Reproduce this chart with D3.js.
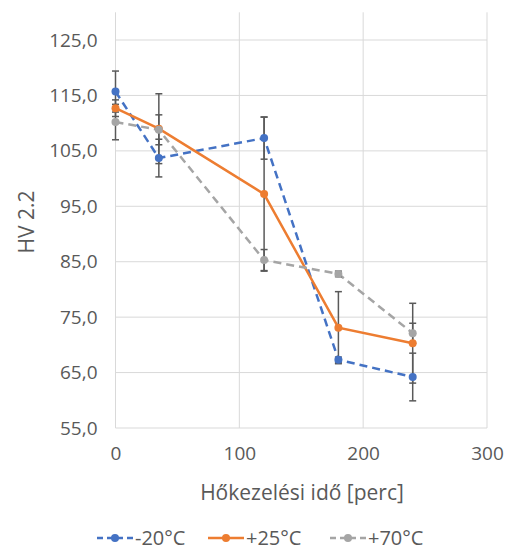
<!DOCTYPE html>
<html>
<head>
<meta charset="utf-8">
<script src="https://cdn.jsdelivr.net/npm/d3@7"></script>
<style>
  body { margin: 0; background: #fff; }
  svg text { font-family: "Open Sans", "Noto Sans", sans-serif; fill: #595959; }
</style>
</head>
<body>
<svg id="chart" width="514" height="550"></svg>
<script>
// data
var times = [0, 35, 120, 180, 240]
var seriesNames = ['-20°C', '+25°C', '+70°C']
var hvMinus20 = [115.7, 103.7, 107.3, 67.3, 64.2]
var hvPlus25 = [112.7, 109.0, 97.2, 73.1, 70.3]
var hvPlus70 = [110.2, 108.8, 85.3, 82.8, 72.1]
var errMinus20 = [3.7, 3.4, 3.8, 0.5, 4.3]
var errPlus25 = [1.5, 6.3, 13.9, 6.5, 7.2]
var errPlus70 = [3.2, 2.7, 1.9, 0.5, 1.8]
var yTicks = [55, 65, 75, 85, 95, 105, 115, 125]
var xTicks = [0, 100, 200, 300]

var colors = ['#4472C4', '#ED7D31', '#A5A5A5']
var dashes = ['8,5', null, '8,5']

var series = seriesNames.map(function (name, i) {
    var vals = [hvMinus20, hvPlus25, hvPlus70][i]
    var errs = [errMinus20, errPlus25, errPlus70][i]
    return {
        name: name,
        color: colors[i],
        dash: dashes[i],
        points: times.map(function (t, j) { return { t: t, v: vals[j], e: errs[j] } })
    }
})

var svg = d3.select('#chart')

var x = d3.scaleLinear().domain([0, 300]).range([115.5, 487])
var y = d3.scaleLinear().domain([55, 130]).range([428, 12.3])

// gridlines
svg.append('g').selectAll('line')
    .data(yTicks)
    .join('line')
    .attr('x1', x(0)).attr('x2', x(300))
    .attr('y1', d => y(d)).attr('y2', d => y(d))
    .attr('stroke', '#d9d9d9').attr('stroke-width', 1)

svg.append('g').selectAll('line')
    .data(xTicks)
    .join('line')
    .attr('x1', d => x(d)).attr('x2', d => x(d))
    .attr('y1', y(130)).attr('y2', y(55))
    .attr('stroke', '#d9d9d9').attr('stroke-width', 1)

// axes (labels only, Excel style)
var yAxis = d3.axisLeft(y).tickValues(yTicks)
    .tickFormat(d => d3.format('.1f')(d).replace('.', ','))
    .tickSize(0).tickPadding(18)
var yg = svg.append('g').attr('transform', 'translate(' + x(0) + ',0)').call(yAxis)
yg.select('.domain').remove()
yg.selectAll('text').style('font-size', '19px').attr('fill', '#595959')

var xAxis = d3.axisBottom(x).tickValues(xTicks).tickSize(0).tickPadding(19)
var xg = svg.append('g').attr('transform', 'translate(0,' + y(55) + ')').call(xAxis)
xg.select('.domain').remove()
xg.selectAll('text').style('font-size', '19px').attr('fill', '#595959')

// axis titles
svg.append('text')
    .attr('x', 302).attr('y', 500)
    .attr('text-anchor', 'middle')
    .style('font-size', '21px')
    .text('Hőkezelési idő [perc]')

svg.append('text')
    .attr('transform', 'translate(34,222) rotate(-90)')
    .attr('text-anchor', 'middle')
    .style('font-size', '21px')
    .text('HV 2.2')

// lines
var line = d3.line().x(d => x(d.t)).y(d => y(d.v))

svg.append('g').selectAll('path')
    .data(series)
    .join('path')
    .attr('d', d => line(d.points))
    .attr('fill', 'none')
    .attr('stroke', d => d.color)
    .attr('stroke-width', 2.5)
    .attr('stroke-dasharray', d => d.dash)

// error bars
var allPts = []
series.forEach(function (s) { s.points.forEach(function (p) { allPts.push(p) }) })

var eg = svg.append('g').attr('stroke', '#595959').attr('stroke-width', 1.5)
eg.selectAll('line.bar')
    .data(allPts)
    .join('line')
    .attr('class', 'bar')
    .attr('x1', d => x(d.t)).attr('x2', d => x(d.t))
    .attr('y1', d => y(d.v + d.e)).attr('y2', d => y(d.v - d.e))
eg.selectAll('line.capTop')
    .data(allPts)
    .join('line')
    .attr('class', 'capTop')
    .attr('x1', d => x(d.t) - 3.5).attr('x2', d => x(d.t) + 3.5)
    .attr('y1', d => y(d.v + d.e)).attr('y2', d => y(d.v + d.e))
eg.selectAll('line.capBot')
    .data(allPts)
    .join('line')
    .attr('class', 'capBot')
    .attr('x1', d => x(d.t) - 3.5).attr('x2', d => x(d.t) + 3.5)
    .attr('y1', d => y(d.v - d.e)).attr('y2', d => y(d.v - d.e))

// markers
series.forEach(function (s) {
    svg.append('g').selectAll('circle')
        .data(s.points)
        .join('circle')
        .attr('cx', d => x(d.t))
        .attr('cy', d => y(d.v))
        .attr('r', 4)
        .attr('fill', s.color)
})

// legend
var legendX = [97, 208, 330]
var lg = svg.append('g').selectAll('g')
    .data(series)
    .join('g')
    .attr('transform', (d, i) => 'translate(' + legendX[i] + ',538)')

lg.append('line')
    .attr('x1', 0).attr('x2', 36)
    .attr('stroke', d => d.color)
    .attr('stroke-width', 2.5)
    .attr('stroke-dasharray', d => d.dash ? '6,4' : null)
lg.append('circle')
    .attr('cx', 18).attr('r', 4)
    .attr('fill', d => d.color)
lg.append('text')
    .attr('x', 38).attr('y', 0)
    .attr('dy', '0.35em')
    .style('font-size', '20px')
    .text(d => d.name)
</script>
</body>
</html>
